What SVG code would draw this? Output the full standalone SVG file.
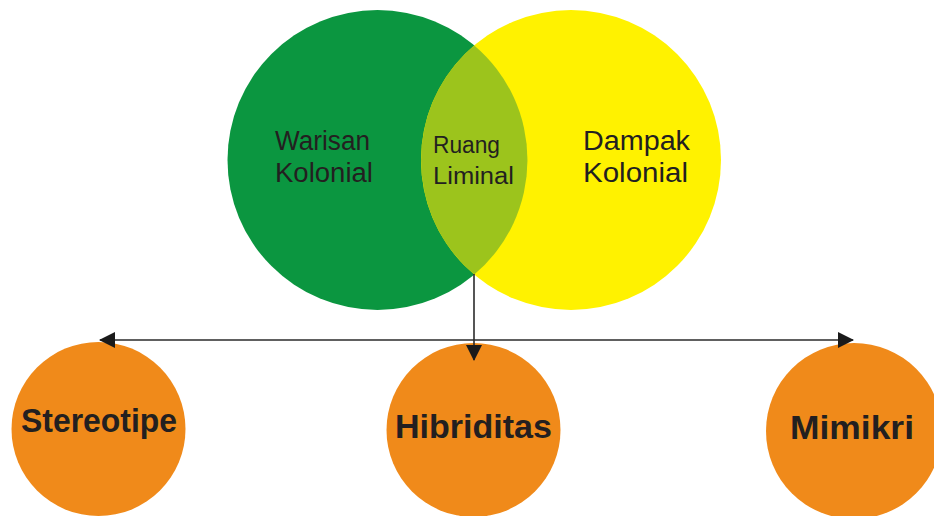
<svg xmlns="http://www.w3.org/2000/svg" width="934" height="516" viewBox="0 0 934 516">
  <defs>
    <style>
      .top { font-family: "Liberation Sans", "Open Sans", sans-serif; font-size: 27px; fill: #231f20; }
      .mid { font-family: "Liberation Sans", "Open Sans", sans-serif; font-size: 23px; fill: #231f20; }
      .bot { font-family: "Liberation Sans", "Open Sans", sans-serif; font-size: 33px; font-weight: bold; fill: #231f20; }
      .orange { fill: #f08a1a; }
      .wire { stroke: #2b2b2b; stroke-width: 1.6; fill: none; }
    </style>
    <marker id="head" viewBox="0 0 16 16" refX="15" refY="8" markerWidth="16" markerHeight="16" markerUnits="userSpaceOnUse" orient="auto">
      <path d="M0,0 L16,8 L0,16 Z" fill="#1a1a1a"/>
    </marker>
  </defs>

  <rect width="934" height="516" fill="#ffffff"/>

  <!-- Venn: colonial legacy / colonial impact, overlap = liminal space -->
  <g id="warisan-kolonial">
    <circle cx="377.5" cy="160" r="150" fill="#0b9640"/>
    <text class="top" x="275" y="150" textLength="95" lengthAdjust="spacingAndGlyphs">Warisan</text>
    <text class="top" x="275" y="182" textLength="98" lengthAdjust="spacingAndGlyphs">Kolonial</text>
  </g>
  <g id="dampak-kolonial">
    <circle cx="571" cy="160" r="150" fill="#fff200"/>
    <text class="top" x="583" y="150" textLength="107" lengthAdjust="spacingAndGlyphs">Dampak</text>
    <text class="top" x="583" y="182" textLength="105" lengthAdjust="spacingAndGlyphs">Kolonial</text>
  </g>
  <g id="ruang-liminal">
    <path d="M474.25,45.4 A150,150 0 0,1 474.25,274.6 A150,150 0 0,1 474.25,45.4 Z" fill="#9cc41c"/>
    <text class="mid" x="433" y="153" textLength="67" lengthAdjust="spacingAndGlyphs">Ruang</text>
    <text class="mid" x="433" y="184" textLength="81" lengthAdjust="spacingAndGlyphs">Liminal</text>
  </g>

  <!-- Outcome nodes -->
  <g id="stereotipe">
    <circle class="orange" cx="98.5" cy="429" r="87"/>
    <text class="bot" x="21" y="432" textLength="156" lengthAdjust="spacingAndGlyphs">Stereotipe</text>
  </g>
  <g id="hibriditas">
    <circle class="orange" cx="473.5" cy="430" r="87"/>
    <text class="bot" x="395" y="438" textLength="157" lengthAdjust="spacingAndGlyphs">Hibriditas</text>
  </g>
  <g id="mimikri">
    <circle class="orange" cx="854" cy="431" r="88"/>
    <text class="bot" x="790" y="439" textLength="124" lengthAdjust="spacingAndGlyphs">Mimikri</text>
  </g>

  <!-- Connectors -->
  <g id="connectors">
    <line class="wire" x1="474" y1="274" x2="474" y2="360" marker-end="url(#head)"/>
    <line class="wire" x1="474" y1="340" x2="100" y2="340" marker-end="url(#head)"/>
    <line class="wire" x1="474" y1="340" x2="853" y2="340" marker-end="url(#head)"/>
  </g>
</svg>
